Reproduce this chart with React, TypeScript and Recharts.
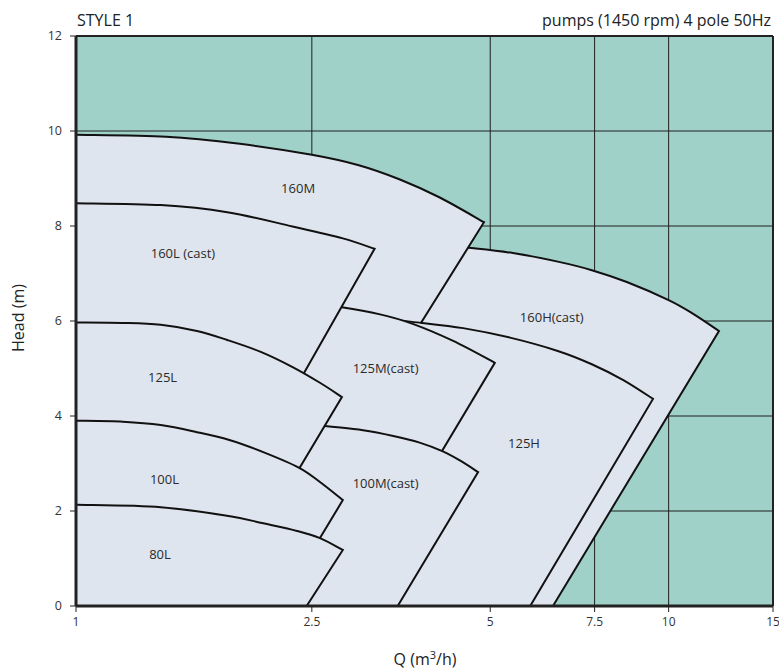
import {
  ComposedChart,
  Area,
  Scatter,
  XAxis,
  YAxis,
  CartesianGrid,
  ReferenceLine,
} from 'recharts';

const qTicks = [1, 2.5, 5, 7.5, 10, 15];
const hTicks = [0, 2, 4, 6, 8, 10, 12];

// every range: head curve from Q=1 to its end, then the limit line down to H=0
// (parts that sit behind another range are estimated)
const r160H = [
  { q: 1, h: 7.82 }, { q: 2, h: 7.77 }, { q: 3, h: 7.71 }, { q: 4, h: 7.61 },
  { q: 4.6, h: 7.54 }, { q: 5.46, h: 7.43 }, { q: 6.5, h: 7.25 }, { q: 7.42, h: 7.07 },
  { q: 8.5, h: 6.82 }, { q: 10, h: 6.44 }, { q: 11, h: 6.15 }, { q: 12.16, h: 5.79 },
  { q: 6.38, h: 0 },
];
const r160M = [
  { q: 1, h: 9.92 }, { q: 1.42, h: 9.88 }, { q: 1.89, h: 9.73 }, { q: 2.5, h: 9.5 },
  { q: 3, h: 9.28 }, { q: 3.52, h: 8.98 }, { q: 4.11, h: 8.6 }, { q: 4.88, h: 8.08 },
  { q: 1.92, h: 0 },
];
const r125H = [
  { q: 1, h: 6.27 }, { q: 2, h: 6.2 }, { q: 3, h: 6.09 }, { q: 3.83, h: 5.96 },
  { q: 4.5, h: 5.85 }, { q: 5.4, h: 5.65 }, { q: 6.5, h: 5.37 }, { q: 7.42, h: 5.09 },
  { q: 8.4, h: 4.75 }, { q: 9.41, h: 4.36 },
  { q: 5.84, h: 0 },
];
const r125M = [
  { q: 1, h: 6.73 }, { q: 2, h: 6.54 }, { q: 2.81, h: 6.29 }, { q: 3.26, h: 6.14 },
  { q: 3.7, h: 5.94 }, { q: 4.33, h: 5.58 }, { q: 5.09, h: 5.12 },
  { q: 2.89, h: 0 },
];
const r100M = [
  { q: 1, h: 4.1 }, { q: 2, h: 3.95 }, { q: 2.63, h: 3.79 }, { q: 3.05, h: 3.7 },
  { q: 3.43, h: 3.58 }, { q: 3.8, h: 3.44 }, { q: 4.15, h: 3.26 }, { q: 4.45, h: 3.06 },
  { q: 4.77, h: 2.82 },
  { q: 3.49, h: 0 },
];
const r160L = [
  { q: 1, h: 8.48 }, { q: 1.39, h: 8.44 }, { q: 1.8, h: 8.29 }, { q: 2.32, h: 7.99 },
  { q: 2.82, h: 7.74 }, { q: 3.19, h: 7.52 },
  { q: 1.45, h: 0 },
];
const r125L = [
  { q: 1, h: 5.97 }, { q: 1.2, h: 5.96 }, { q: 1.39, h: 5.92 }, { q: 1.6, h: 5.79 },
  { q: 1.8, h: 5.6 }, { q: 2.05, h: 5.35 }, { q: 2.32, h: 5.03 }, { q: 2.58, h: 4.7 },
  { q: 2.81, h: 4.4 },
  { q: 1.73, h: 0 },
];
const r100L = [
  { q: 1, h: 3.9 }, { q: 1.2, h: 3.88 }, { q: 1.39, h: 3.81 }, { q: 1.6, h: 3.66 },
  { q: 1.82, h: 3.49 }, { q: 2.07, h: 3.24 }, { q: 2.38, h: 2.91 }, { q: 2.58, h: 2.61 },
  { q: 2.82, h: 2.23 },
  { q: 2.2, h: 0 },
];
const r80L = [
  { q: 1, h: 2.13 }, { q: 1.39, h: 2.08 }, { q: 1.82, h: 1.89 }, { q: 2.07, h: 1.74 },
  { q: 2.36, h: 1.58 }, { q: 2.58, h: 1.43 }, { q: 2.82, h: 1.18 },
  { q: 2.45, h: 0 },
];

// back to front
const ranges = [r160H, r160M, r125H, r125M, r100M, r160L, r125L, r100L, r80L];

const rangeLabels = [
  { q: 2.37, h: 8.8, text: '160M' },
  { q: 1.515, h: 7.43, text: '160L (cast)' },
  { q: 1.4, h: 4.82, text: '125L' },
  { q: 3.33, h: 5.01, text: '125M(cast)' },
  { q: 1.41, h: 2.67, text: '100L' },
  { q: 1.386, h: 1.09, text: '80L' },
  { q: 3.33, h: 2.59, text: '100M(cast)' },
  { q: 6.35, h: 6.08, text: '160H(cast)' },
  { q: 5.7, h: 3.43, text: '125H' },
];

const font = '"Open Sans", sans-serif';

// smooth where x runs forward, straight (sharp corner) where the path turns back
const cornerCurve = (ctx: any) => {
  let pts: number[][] = [];
  let line = NaN;
  return {
    areaStart() { line = 0; },
    areaEnd() { line = NaN; },
    lineStart() { pts = []; },
    point(x: number, y: number) { pts.push([+x, +y]); },
    lineEnd() {
      if (pts.length) {
        if (line) ctx.lineTo(pts[0][0], pts[0][1]);
        else ctx.moveTo(pts[0][0], pts[0][1]);
        let i = 0;
        while (i < pts.length - 1) {
          let j = i;
          while (j + 1 < pts.length && pts[j + 1][0] > pts[j][0]) j++;
          if (j === i) {
            ctx.lineTo(pts[i + 1][0], pts[i + 1][1]);
            i++;
            continue;
          }
          for (let k = i; k < j; k++) {
            const p0 = pts[Math.max(k - 1, i)];
            const p1 = pts[k];
            const p2 = pts[k + 1];
            const p3 = pts[Math.min(k + 2, j)];
            ctx.bezierCurveTo(
              p1[0] + (p2[0] - p0[0]) / 6, p1[1] + (p2[1] - p0[1]) / 6,
              p2[0] - (p3[0] - p1[0]) / 6, p2[1] - (p3[1] - p1[1]) / 6,
              p2[0], p2[1],
            );
          }
          i = j;
        }
      }
      if (line || (line !== 0 && pts.length === 1)) ctx.closePath();
      line = 1 - line;
    },
  };
};

const LabelShape = (props: any) => (
  <text
    x={props.cx}
    y={props.cy}
    textAnchor='middle'
    dominantBaseline='central'
    fontSize={13}
    fontFamily={font}
    fill='#2a2a2a'
  >
    {props.payload.text}
  </text>
);

const App = () => {
  return (
    <div style={{ position: 'absolute', left: 0, top: 0, width: 779, height: 671, fontFamily: font, color: '#222' }}>
      <ComposedChart width={779} height={671} margin={{ top: 36, right: 6, bottom: 0, left: 0 }}>
        <CartesianGrid fill='#a0d1c8' fillOpacity={1} stroke='#1e1e1e' strokeWidth={1} />
        <XAxis
          dataKey='q'
          type='number'
          scale='log'
          domain={[1, 15]}
          allowDataOverflow
          ticks={qTicks}
          interval={0}
          height={65}
          tickSize={6}
          tickMargin={5}
          axisLine={{ stroke: '#222', strokeWidth: 3 }}
          tickLine={{ stroke: '#222' }}
          tick={{ fill: '#333', fontSize: 12, fontFamily: font }}
        />
        <YAxis
          dataKey='h'
          type='number'
          domain={[0, 12]}
          ticks={hTicks}
          interval={0}
          width={76}
          tickSize={6}
          tickMargin={8}
          axisLine={{ stroke: '#222', strokeWidth: 3 }}
          tickLine={{ stroke: '#222' }}
          tick={{ fill: '#333', fontSize: 12.5, fontFamily: font }}
        />
        {ranges.map((r, i) => (
          <Area
            key={i}
            data={r}
            dataKey='h'
            type={cornerCurve as any}
            fill='#dfe5ee'
            fillOpacity={1}
            stroke='#111'
            strokeWidth={2}
            dot={false}
            activeDot={false}
            isAnimationActive={false}
          />
        ))}
        <ReferenceLine y={12} stroke='#222' strokeWidth={2} />
        <ReferenceLine x={15} stroke='#222' strokeWidth={2} />
        <Scatter data={rangeLabels} dataKey='h' shape={LabelShape} isAnimationActive={false} />
      </ComposedChart>
      <div style={{ position: 'absolute', left: 77, top: 12, fontSize: 16, lineHeight: '16px' }}>STYLE 1</div>
      <div style={{ position: 'absolute', right: 8, top: 12, fontSize: 16, lineHeight: '16px' }}>
        pumps (1450 rpm) 4 pole 50Hz
      </div>
      <div
        style={{
          position: 'absolute',
          left: 18 - 60,
          top: 318 - 10,
          width: 120,
          height: 20,
          lineHeight: '20px',
          textAlign: 'center',
          fontSize: 16,
          transform: 'rotate(-90deg)',
        }}
      >
        Head (m)
      </div>
      <div
        style={{
          position: 'absolute',
          left: 425 - 60,
          top: 649,
          width: 120,
          lineHeight: '20px',
          textAlign: 'center',
          fontSize: 16,
        }}
      >
        Q (m<sup style={{ fontSize: 11, lineHeight: 0 }}>3</sup>/h)
      </div>
    </div>
  );
};

export default App;
